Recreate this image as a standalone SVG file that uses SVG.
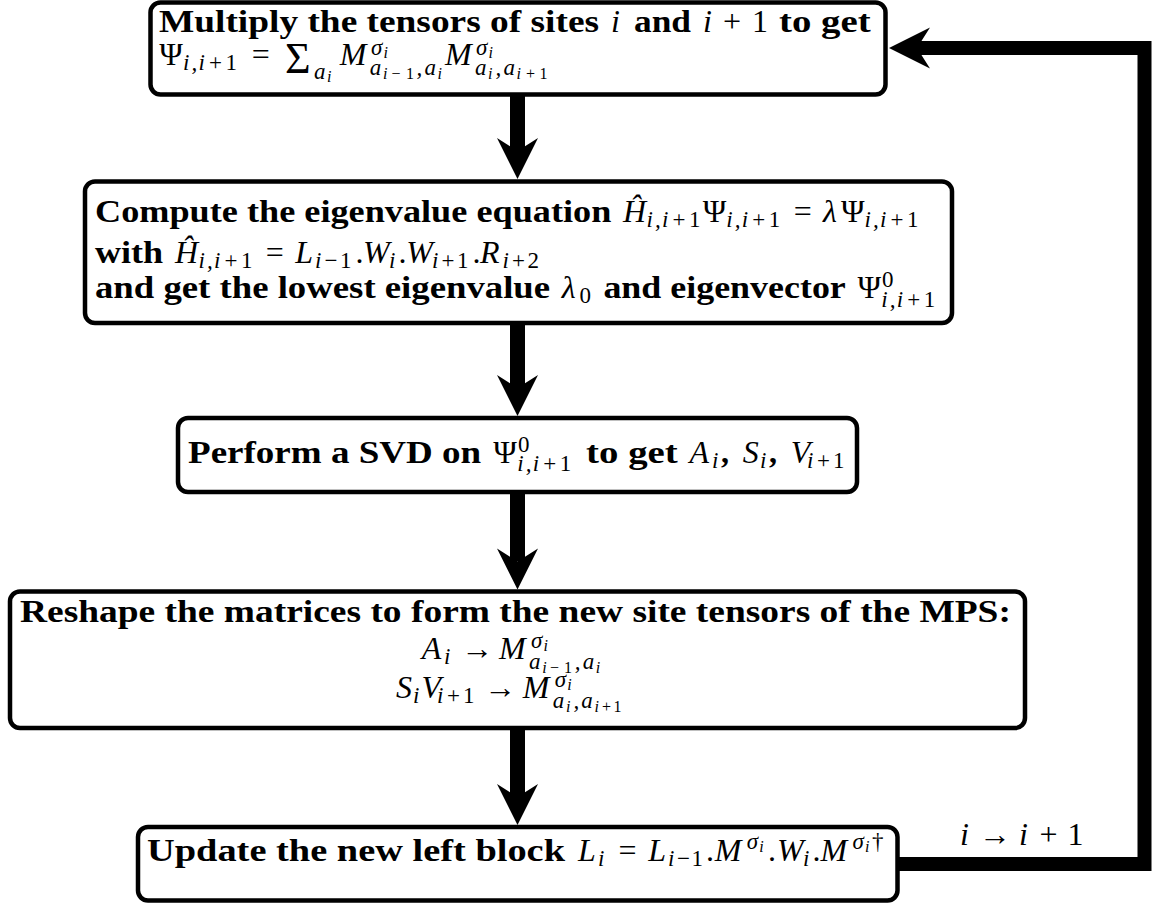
<svg xmlns="http://www.w3.org/2000/svg" width="1157" height="905" viewBox="0 0 1157 905">
  <defs>
    <style>
      .box { fill: #ffffff; stroke: #000000; stroke-width: 4.5; }
      .b { font: bold 32px "Liberation Serif", serif; fill: #000; }
      .mi { font: italic 32px "Liberation Serif", serif; fill: #000; }
      .mr { font: normal 32px "Liberation Serif", serif; fill: #000; }
      .big { font: normal 44px "Liberation Serif", serif; }
      .si { font: italic 23px "Liberation Serif", serif; }
      .sr { font: normal 23px "Liberation Serif", serif; }
      .ssi { font: italic 16px "Liberation Serif", serif; }
      .ssr { font: normal 16px "Liberation Serif", serif; }
      .c { text-anchor: middle; }
      .flow { fill: none; stroke: #000000; stroke-width: 15; stroke-linecap: butt; }
      .loop { fill: none; stroke: #000000; stroke-width: 14; stroke-linejoin: miter; stroke-linecap: butt; }
    </style>
    <marker id="head" viewBox="-42 -21 43 42" markerWidth="43" markerHeight="42" refX="-28" refY="0" markerUnits="userSpaceOnUse" orient="auto">
      <path d="M0,0 L-41,-20.5 L-28,0 L-41,20.5 Z" fill="#000000"/>
    </marker>
  </defs>

  <rect width="1157" height="905" fill="#ffffff"/>

  <!-- connectors between the steps, plus the sweep loop back to the top -->
  <g id="connectors">
    <line class="flow" x1="517.5" y1="95" x2="517.5" y2="151" marker-end="url(#head)"/>
    <line class="flow" x1="517.5" y1="323" x2="517.5" y2="388" marker-end="url(#head)"/>
    <line class="flow" x1="517.5" y1="492" x2="517.5" y2="561.5" marker-end="url(#head)"/>
    <line class="flow" x1="517.5" y1="728" x2="517.5" y2="797" marker-end="url(#head)"/>
    <path class="loop" d="M897.5,864 H1144.5 V48 H917" marker-end="url(#head)"/>
    <text id="loop-label" class="mr"><tspan class="mi" x="960" y="845">i</tspan><tspan class="c" x="994.8" y="845">→</tspan><tspan class="mi" x="1018.9" y="845">i</tspan><tspan class="c" x="1048.55" y="845">+</tspan><tspan x="1067.5" y="845">1</tspan></text>
  </g>

  <!-- step 1: contraction of two site tensors -->
  <g id="node-multiply">
    <rect class="box" x="150.5" y="2.5" width="735" height="92" rx="10"/>
    <text class="b" x="159" y="32" textLength="440" lengthAdjust="spacingAndGlyphs">Multiply the tensors of sites</text>
    <text class="mi" x="611" y="32">i</text>
    <text class="b" x="634" y="32" textLength="57" lengthAdjust="spacingAndGlyphs">and</text>
    <text class="mr"><tspan class="mi" x="703" y="32">i</tspan><tspan class="c" x="732" y="32">+</tspan><tspan x="752" y="32">1</tspan></text>
    <text class="b" x="779" y="32" textLength="91.6" lengthAdjust="spacingAndGlyphs">to get</text>

    <text class="mr"><tspan class="c" x="171" y="65">Ψ</tspan><tspan class="si" x="183" y="70">i</tspan><tspan class="si" x="191.5" y="70">,</tspan><tspan class="si" x="198.5" y="70">i</tspan><tspan class="sr" x="209" y="70">+</tspan><tspan class="sr" x="225.5" y="70">1</tspan><tspan class="c" x="260.75" y="65">=</tspan><tspan class="big c" x="297.7" y="73">Σ</tspan><tspan class="si" x="314" y="79">a</tspan><tspan class="ssi" x="327" y="82">i</tspan><tspan class="mi" x="339.8" y="65">M</tspan><tspan class="si" x="371" y="55">σ</tspan><tspan class="ssi" x="383.5" y="58">i</tspan><tspan class="si" x="369.8" y="75">a</tspan><tspan class="ssi" x="382.9" y="79">i</tspan><tspan class="ssr" x="391.5" y="79">−</tspan><tspan class="ssr" x="405.9" y="79">1</tspan><tspan class="si" x="416.5" y="75">,</tspan><tspan class="si" x="424.4" y="75">a</tspan><tspan class="ssi" x="437.5" y="79">i</tspan><tspan class="mi" x="445" y="65">M</tspan><tspan class="si" x="476" y="55">σ</tspan><tspan class="ssi" x="488.5" y="58">i</tspan><tspan class="si" x="475" y="75">a</tspan><tspan class="ssi" x="488.1" y="79">i</tspan><tspan class="si" x="495.6" y="75">,</tspan><tspan class="si" x="503.5" y="75">a</tspan><tspan class="ssi" x="516.6" y="79">i</tspan><tspan class="ssr" x="526" y="79">+</tspan><tspan class="ssr" x="539.6" y="79">1</tspan></text>
  </g>

  <!-- step 2: local eigenvalue problem -->
  <g id="node-eigen">
    <rect class="box" x="85" y="181.5" width="867" height="141.5" rx="10"/>
    <text class="b" x="95" y="222" textLength="516.3" lengthAdjust="spacingAndGlyphs">Compute the eigenvalue equation</text>
    <text class="mr"><tspan class="mi" x="623" y="222">Ĥ</tspan><tspan class="si" x="646.5" y="227">i</tspan><tspan class="si" x="655" y="227">,</tspan><tspan class="si" x="662" y="227">i</tspan><tspan class="sr" x="672.5" y="227">+</tspan><tspan class="sr" x="689" y="227">1</tspan><tspan class="c" x="714.45" y="222">Ψ</tspan><tspan class="si" x="726.3" y="227">i</tspan><tspan class="si" x="734.8" y="227">,</tspan><tspan class="si" x="741.8" y="227">i</tspan><tspan class="sr" x="752.3" y="227">+</tspan><tspan class="sr" x="768.8" y="227">1</tspan><tspan class="c" x="802.75" y="222">=</tspan><tspan class="mi" x="823.1" y="222">λ</tspan><tspan class="c" x="852.75" y="222">Ψ</tspan><tspan class="si" x="864.6" y="227">i</tspan><tspan class="si" x="873.1" y="227">,</tspan><tspan class="si" x="880.1" y="227">i</tspan><tspan class="sr" x="890.6" y="227">+</tspan><tspan class="sr" x="907.1" y="227">1</tspan></text>

    <text class="b" x="95" y="263" textLength="68.2" lengthAdjust="spacingAndGlyphs">with</text>
    <text class="mr"><tspan class="mi" x="174.9" y="263">Ĥ</tspan><tspan class="si" x="198.4" y="268">i</tspan><tspan class="si" x="206.9" y="268">,</tspan><tspan class="si" x="213.9" y="268">i</tspan><tspan class="sr" x="224.4" y="268">+</tspan><tspan class="sr" x="240.9" y="268">1</tspan><tspan class="c" x="274.85" y="263">=</tspan><tspan class="mi" x="295.2" y="263">L</tspan><tspan class="si" x="315" y="268">i</tspan><tspan class="sr" x="324.5" y="268">−</tspan><tspan class="sr" x="340" y="268">1</tspan><tspan x="355.5" y="263">.</tspan><tspan class="mi" x="363.05" y="263">W</tspan><tspan class="si" x="389" y="268">i</tspan><tspan x="398.5" y="263">.</tspan><tspan class="mi" x="406.25" y="263">W</tspan><tspan class="si" x="432" y="268">i</tspan><tspan class="sr" x="441.5" y="268">+</tspan><tspan class="sr" x="457" y="268">1</tspan><tspan x="472.5" y="263">.</tspan><tspan class="mi" x="480.05" y="263">R</tspan><tspan class="si" x="502.5" y="268">i</tspan><tspan class="sr" x="512" y="268">+</tspan><tspan class="sr" x="527.5" y="268">2</tspan></text>

    <text class="b" x="95" y="298" textLength="455.1" lengthAdjust="spacingAndGlyphs">and get the lowest eigenvalue</text>
    <text class="mr"><tspan class="mi" x="561.8" y="298">λ</tspan><tspan class="sr" x="579.6" y="303">0</tspan></text>
    <text class="b" x="603.4" y="298" textLength="242.4" lengthAdjust="spacingAndGlyphs">and eigenvector</text>
    <text class="mr"><tspan class="c" x="869.35" y="298">Ψ</tspan><tspan class="sr" x="882" y="287">0</tspan><tspan class="si" x="881.2" y="307">i</tspan><tspan class="si" x="889.7" y="307">,</tspan><tspan class="si" x="896.7" y="307">i</tspan><tspan class="sr" x="907.2" y="307">+</tspan><tspan class="sr" x="923.7" y="307">1</tspan></text>
  </g>

  <!-- step 3: singular value decomposition -->
  <g id="node-svd">
    <rect class="box" x="178" y="418" width="679" height="74" rx="10"/>
    <text class="b" x="188" y="463" textLength="293.2" lengthAdjust="spacingAndGlyphs">Perform a SVD on</text>
    <text class="mr"><tspan class="c" x="505.15" y="463">Ψ</tspan><tspan class="sr" x="518" y="452">0</tspan><tspan class="si" x="517.2" y="471">i</tspan><tspan class="si" x="525.7" y="471">,</tspan><tspan class="si" x="532.7" y="471">i</tspan><tspan class="sr" x="543.2" y="471">+</tspan><tspan class="sr" x="559.7" y="471">1</tspan></text>
    <text class="b" x="586.1" y="463" textLength="91.6" lengthAdjust="spacingAndGlyphs">to get</text>
    <text class="mr"><tspan class="mi" x="689.6" y="463">A</tspan><tspan class="si" x="712" y="468">i</tspan><tspan class="b" x="720.9" y="463">,</tspan><tspan class="mi" x="742.7" y="463">S</tspan><tspan class="si" x="760" y="468">i</tspan><tspan class="b" x="768.9" y="463">,</tspan><tspan class="mi" x="790.7" y="463">V</tspan><tspan class="si" x="807" y="468">i</tspan><tspan class="sr" x="817" y="468">+</tspan><tspan class="sr" x="833" y="468">1</tspan></text>
  </g>

  <!-- step 4: reshape into MPS site tensors -->
  <g id="node-reshape">
    <rect class="box" x="10" y="591.5" width="1015" height="136.5" rx="10"/>
    <text class="b" x="20" y="622" textLength="990.9" lengthAdjust="spacingAndGlyphs">Reshape the matrices to form the new site tensors of the MPS:</text>
    <text class="mr"><tspan class="mi" x="421.7" y="659">A</tspan><tspan class="si" x="444" y="664">i</tspan><tspan class="c" x="477" y="659">→</tspan><tspan class="mi" x="499.1" y="659">M</tspan><tspan class="si" x="531" y="648">σ</tspan><tspan class="ssi" x="543.5" y="651">i</tspan><tspan class="si" x="529.1" y="669">a</tspan><tspan class="ssi" x="542.2" y="673">i</tspan><tspan class="ssr" x="550" y="673">−</tspan><tspan class="ssr" x="564" y="673">1</tspan><tspan class="si" x="574.8" y="669">,</tspan><tspan class="si" x="582.7" y="669">a</tspan><tspan class="ssi" x="595.8" y="673">i</tspan></text>
    <text class="mr"><tspan class="mi" x="396" y="698">S</tspan><tspan class="si" x="413" y="703">i</tspan><tspan class="mi" x="421.5" y="698">V</tspan><tspan class="si" x="437" y="703">i</tspan><tspan class="sr" x="447" y="703">+</tspan><tspan class="sr" x="463" y="703">1</tspan><tspan class="c" x="500" y="698">→</tspan><tspan class="mi" x="522.8" y="698">M</tspan><tspan class="si" x="554.8" y="687">σ</tspan><tspan class="ssi" x="567.3" y="690">i</tspan><tspan class="si" x="552.8" y="708">a</tspan><tspan class="ssi" x="565.9" y="712">i</tspan><tspan class="si" x="573.4" y="708">,</tspan><tspan class="si" x="581.3" y="708">a</tspan><tspan class="ssi" x="594.4" y="712">i</tspan><tspan class="ssr" x="602" y="712">+</tspan><tspan class="ssr" x="613.4" y="712">1</tspan></text>
  </g>

  <!-- step 5: left block update -->
  <g id="node-update">
    <rect class="box" x="138" y="827" width="759.5" height="73.5" rx="10"/>
    <text class="b" x="147" y="861" textLength="418" lengthAdjust="spacingAndGlyphs">Update the new left block</text>
    <text class="mr"><tspan class="mi" x="577.9" y="861">L</tspan><tspan class="si" x="598" y="866">i</tspan><tspan class="c" x="627.55" y="861">=</tspan><tspan class="mi" x="648.2" y="861">L</tspan><tspan class="si" x="668" y="866">i</tspan><tspan class="sr" x="677" y="866">−</tspan><tspan class="sr" x="691.5" y="866">1</tspan><tspan x="706" y="861">.</tspan><tspan class="mi" x="714.8" y="861">M</tspan><tspan class="si" x="746.8" y="849">σ</tspan><tspan class="ssi" x="759.3" y="852">i</tspan><tspan x="768" y="861">.</tspan><tspan class="mi" x="777" y="861">W</tspan><tspan class="si" x="803" y="866">i</tspan><tspan x="812.5" y="861">.</tspan><tspan class="mi" x="820.5" y="861">M</tspan><tspan class="si" x="852.5" y="849">σ</tspan><tspan class="ssi" x="865" y="852">i</tspan><tspan class="sr" x="872" y="849">†</tspan></text>
  </g>
</svg>
